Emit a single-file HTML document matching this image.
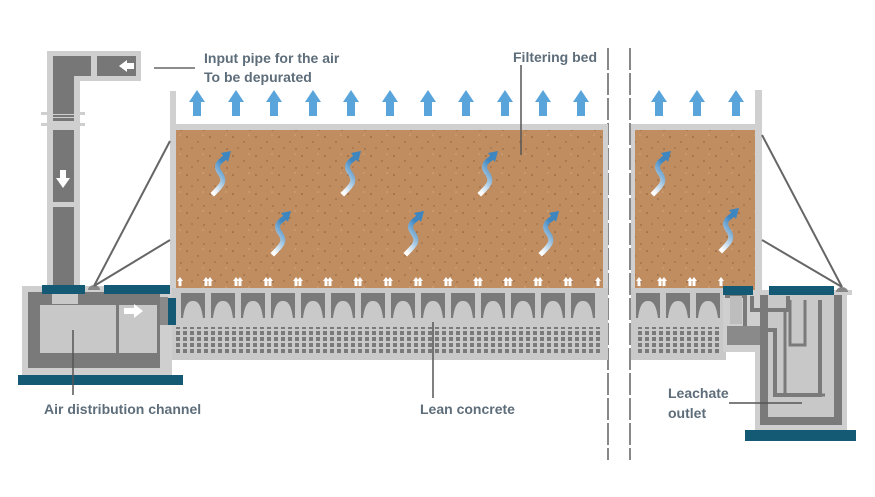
<!DOCTYPE html>
<html><head><meta charset="utf-8"><style>
html,body{margin:0;padding:0;background:#fff}
svg{display:block}
.t{font-family:"Liberation Sans Narrow","Liberation Sans",sans-serif;font-weight:bold;font-size:14px;fill:#5d6d7a}
</style></head><body>
<svg width="875" height="497" viewBox="0 0 875 497" xmlns="http://www.w3.org/2000/svg">
<defs>
<linearGradient id="sg" x1="0" y1="1" x2="0.4" y2="0"><stop offset="0" stop-color="#fff"/><stop offset="1" stop-color="#3d86c0"/></linearGradient>
<pattern id="dots" width="7" height="6" patternUnits="userSpaceOnUse"><rect width="7" height="6" fill="#c9c9c9"/><rect x="1" y="1" width="4" height="4" fill="#7a7a7a"/></pattern>
<pattern id="sand" width="23" height="19" patternUnits="userSpaceOnUse"><rect width="23" height="19" fill="#c08d60"/><circle cx="3" cy="4" r="0.8" fill="#8a5a35"/><circle cx="14" cy="9" r="0.7" fill="#8a5a35"/><circle cx="8" cy="15" r="0.8" fill="#9a6a42"/><circle cx="19" cy="2" r="0.6" fill="#e0b890"/><circle cx="20" cy="16" r="0.7" fill="#8a5a35"/></pattern>
<g id="up"><path d="M-4 0 V-14 H-8 L0 -26 L8 -14 H4 V0 Z" fill="#5aa4dc"/></g>
<g id="sq"><path d="M-6 18 C2 10 6 6 0 -2 C-6 -10 0 -14 6 -18" fill="none" stroke="url(#sg)" stroke-width="5" stroke-linecap="square"/><path d="M1 -22 L11 -24 L8 -13 Z" fill="#3d86c0"/></g>
<g id="arch"><path d="M0 0 H24 V25 H22 C20 10 16 8 12 8 C8 8 4 10 2 25 H0 Z" fill="#7a7a7a"/></g>
<g id="wa"><path d="M-1.5 0 V-5 H-3 L0 -9 L3 -5 H1.5 V0 Z" fill="#fff"/></g>
</defs>

<line x1="608" y1="48" x2="608" y2="460" stroke="#888" stroke-width="2" stroke-dasharray="22,3"/>
<line x1="630" y1="48" x2="630" y2="460" stroke="#888" stroke-width="2" stroke-dasharray="22,3"/>

<rect x="170" y="91" width="6" height="200" fill="#d0d0d0"/>
<rect x="170" y="124" width="438" height="6" fill="#d0d0d0"/>
<rect x="176" y="130" width="427" height="160" fill="url(#sand)"/>
<rect x="603" y="124" width="5" height="236" fill="#d0d0d0"/>
<rect x="170" y="288" width="438" height="72" fill="#c9c9c9"/>
<rect x="176" y="327" width="427" height="26" fill="url(#dots)"/>
<rect x="631" y="124" width="131" height="6" fill="#d0d0d0"/>
<rect x="631" y="124" width="4" height="236" fill="#d0d0d0"/>
<rect x="755" y="90" width="7" height="200" fill="#d0d0d0"/>
<rect x="635" y="130" width="120" height="160" fill="url(#sand)"/>
<rect x="631" y="288" width="95" height="72" fill="#c9c9c9"/>
<rect x="635" y="327" width="85" height="26" fill="url(#dots)"/>

<g transform="translate(181,293)">
<use href="#arch" x="0"/><use href="#arch" x="30"/><use href="#arch" x="60"/><use href="#arch" x="90"/><use href="#arch" x="120"/><use href="#arch" x="150"/><use href="#arch" x="180"/><use href="#arch" x="210"/><use href="#arch" x="240"/><use href="#arch" x="270"/><use href="#arch" x="300"/><use href="#arch" x="330"/><use href="#arch" x="360"/><use href="#arch" x="390"/>
</g>
<g transform="translate(636,293)"><use href="#arch" x="0"/><use href="#arch" x="30"/><use href="#arch" x="60"/></g>

<g transform="translate(0,116)">
<use href="#up" x="197"/><use href="#up" x="236"/><use href="#up" x="274"/><use href="#up" x="313"/><use href="#up" x="351"/><use href="#up" x="390"/><use href="#up" x="428"/><use href="#up" x="466"/><use href="#up" x="505"/><use href="#up" x="543"/><use href="#up" x="581"/><use href="#up" x="659"/><use href="#up" x="697"/><use href="#up" x="736"/>
</g>
<use href="#sq" x="220" y="175"/><use href="#sq" x="350" y="175"/><use href="#sq" x="487" y="175"/>
<use href="#sq" x="280" y="235"/><use href="#sq" x="413" y="235"/><use href="#sq" x="548" y="235"/>
<use href="#sq" x="660" y="175"/><use href="#sq" x="728" y="232"/>
<g transform="translate(0,286)">
<use href="#wa" x="180"/><use href="#wa" x="206"/><use href="#wa" x="210"/><use href="#wa" x="236"/><use href="#wa" x="240"/><use href="#wa" x="266"/><use href="#wa" x="270"/><use href="#wa" x="296"/><use href="#wa" x="300"/><use href="#wa" x="326"/><use href="#wa" x="330"/><use href="#wa" x="356"/><use href="#wa" x="360"/><use href="#wa" x="386"/><use href="#wa" x="390"/><use href="#wa" x="416"/><use href="#wa" x="420"/><use href="#wa" x="446"/><use href="#wa" x="450"/><use href="#wa" x="476"/><use href="#wa" x="480"/><use href="#wa" x="506"/><use href="#wa" x="510"/><use href="#wa" x="536"/><use href="#wa" x="540"/><use href="#wa" x="566"/><use href="#wa" x="570"/><use href="#wa" x="598"/>
<use href="#wa" x="639"/><use href="#wa" x="660"/><use href="#wa" x="664"/><use href="#wa" x="690"/><use href="#wa" x="694"/><use href="#wa" x="721"/>
</g>

<path d="M47 51 H141 V81 H80 V285 H47 Z" fill="#cfcfcf"/>
<path d="M53 56 H91 V76 H74 V117 H53 Z" fill="#777"/>
<rect x="97" y="56" width="39" height="20" fill="#777"/>
<path d="M119 66 L127 60 V63 H134 V69 H127 V72 Z" fill="#fff"/>
<rect x="41" y="112" width="44" height="3" fill="#cfcfcf"/><rect x="41" y="123" width="44" height="3" fill="#cfcfcf"/>
<rect x="53" y="111" width="21" height="3" fill="#777"/><rect x="53" y="118" width="21" height="3" fill="#777"/>
<rect x="53" y="130" width="21" height="72" fill="#777"/>
<path d="M60 170 V178 H56 L63 188 L70 178 H66 V170 Z" fill="#fff"/>
<rect x="53" y="207" width="21" height="78" fill="#777"/>

<rect x="22" y="286" width="150" height="89" fill="#cfcfcf"/>
<rect x="28" y="292" width="132" height="76" fill="#7a7a7a"/>
<rect x="40" y="305" width="76" height="48" fill="#c8c8c8"/>
<rect x="119" y="305" width="38" height="48" fill="#c8c8c8"/>
<rect x="52" y="294" width="26" height="10" fill="#c8c8c8"/>
<rect x="160" y="297" width="8" height="28" fill="#8a8a8a"/>
<path d="M124 308 H134 V304 L143 311 L134 318 V314 H124 Z" fill="#fff"/>
<rect x="168" y="298" width="8" height="27" fill="#145a75"/>
<rect x="42" y="285" width="43" height="9" fill="#145a75"/>
<rect x="104" y="285" width="66" height="9" fill="#145a75"/>
<path d="M88 290 A6 5 0 0 1 100 290 Z" fill="#888"/>
<rect x="18" y="375" width="165" height="10" fill="#145a75"/>
<line x1="94" y1="286" x2="170" y2="141" stroke="#666" stroke-width="2"/>
<line x1="94" y1="286" x2="170" y2="240" stroke="#666" stroke-width="2"/>
<line x1="73" y1="330" x2="73" y2="395" stroke="#555" stroke-width="1.5"/>

<!-- right box -->
<rect x="722" y="290" width="130" height="5" fill="#cfcfcf"/>
<path d="M723 290 H847 V430 H755 V352 H723 Z" fill="#cfcfcf"/>
<rect x="760" y="295" width="82" height="130" fill="#7a7a7a"/>
<rect x="768" y="295" width="66" height="122" fill="#c8c8c8"/>
<path d="M725 296 H745 V330 H775 V395 H820 V300" fill="none" stroke="#7a7a7a" stroke-width="4"/>
<path d="M752 296 V310 H788 V296" fill="none" stroke="#7a7a7a" stroke-width="4"/>
<path d="M727 326 H760 V345 H727 Z" fill="#8a8a8a"/>
<rect x="730" y="296" width="12" height="28" fill="#bdbdbd"/>
<path d="M790 300 V345 H805 V300" fill="none" stroke="#7a7a7a" stroke-width="3"/>
<path d="M785 310 V395 H825" fill="none" stroke="#7a7a7a" stroke-width="3"/>
<rect x="723" y="286" width="30" height="9" fill="#145a75"/>
<rect x="769" y="286" width="65" height="9" fill="#145a75"/>
<path d="M836 292 A6 5 0 0 1 848 292 Z" fill="#888"/>
<rect x="745" y="430" width="111" height="11" fill="#145a75"/>
<line x1="842" y1="287" x2="762" y2="135" stroke="#666" stroke-width="2"/>
<line x1="842" y1="287" x2="762" y2="240" stroke="#666" stroke-width="2"/>
<line x1="729" y1="403" x2="802" y2="403" stroke="#555" stroke-width="1.5"/>

<line x1="154" y1="68" x2="195" y2="68" stroke="#666" stroke-width="1.5"/>
<line x1="521" y1="65" x2="521" y2="155" stroke="#555" stroke-width="1.5"/>
<line x1="433" y1="322" x2="433" y2="398" stroke="#555" stroke-width="1.5"/>

<text class="t" x="204" y="63">Input pipe for the air</text>
<text class="t" x="204" y="82">To be depurated</text>
<text class="t" x="513" y="62">Filtering bed</text>
<text class="t" x="44" y="414">Air distribution channel</text>
<text class="t" x="420" y="414">Lean concrete</text>
<text class="t" x="668" y="398">Leachate</text>
<text class="t" x="668" y="418">outlet</text>
</svg>
</body></html>
